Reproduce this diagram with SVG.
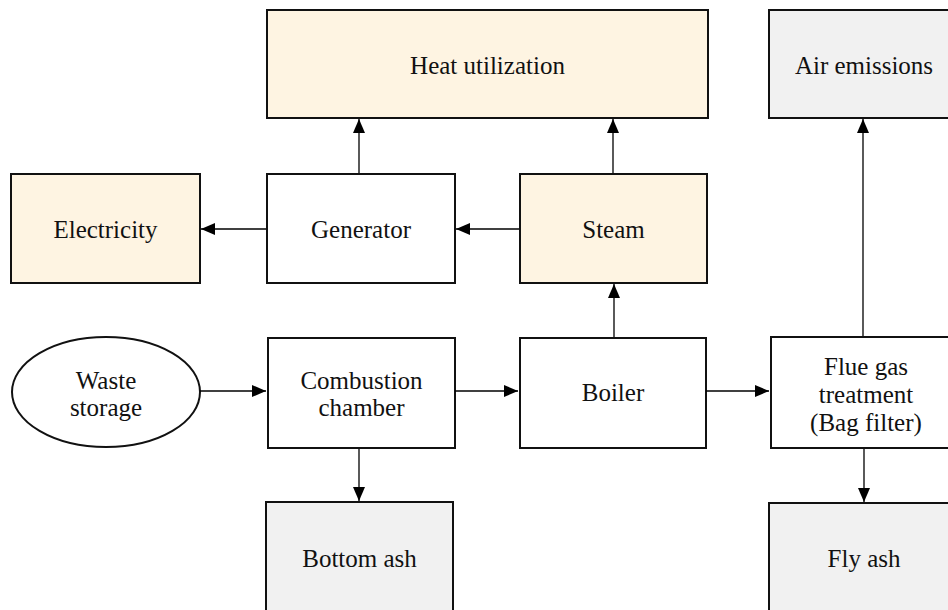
<svg xmlns="http://www.w3.org/2000/svg" width="948" height="610" viewBox="0 0 948 610">
<defs>
<marker id="ah" viewBox="0 0 14 12" refX="14" refY="6" markerWidth="14" markerHeight="12" markerUnits="userSpaceOnUse" orient="auto">
<path d="M0,0 L14,6 L0,12 Z" fill="#000"/>
</marker>
<style>
.box{stroke:#111;stroke-width:2}
.w{fill:#fff}
.b{fill:#FEF4E2}
.g{fill:#F1F1F1}
text{font-family:"Liberation Serif","Times New Roman",serif;font-size:25px;fill:#111;text-anchor:middle}
.c{stroke:#000;stroke-width:1.3;fill:none;marker-end:url(#ah)}
</style>
</defs>
<rect width="948" height="610" fill="#fff"/>
<g id="heat"><rect class="box b" x="267" y="10" width="441" height="108"/><text x="487.5" y="74">Heat utilization</text></g>
<g id="air"><rect class="box g" x="769" y="10" width="192" height="108"/><text x="864" y="74">Air emissions</text></g>
<g id="electricity"><rect class="box b" x="11" y="174" width="189" height="109"/><text x="105.5" y="238">Electricity</text></g>
<g id="generator"><rect class="box w" x="267" y="174" width="188" height="109"/><text x="361" y="238">Generator</text></g>
<g id="steam"><rect class="box b" x="520" y="174" width="187" height="109"/><text x="613.5" y="238">Steam</text></g>
<g id="waste"><ellipse class="box w" cx="106" cy="392" rx="94" ry="55"/><text x="106" y="389">Waste</text><text x="106" y="416">storage</text></g>
<g id="combustion"><rect class="box w" x="268" y="338" width="187" height="110"/><text x="361.5" y="389">Combustion</text><text x="361.5" y="416">chamber</text></g>
<g id="boiler"><rect class="box w" x="520" y="338" width="186" height="110"/><text x="613" y="401">Boiler</text></g>
<g id="flue"><rect class="box w" x="771" y="337" width="190" height="111"/><text x="866" y="375">Flue gas</text><text x="866" y="403">treatment</text><text x="866" y="431">(Bag filter)</text></g>
<g id="bottomash"><rect class="box g" x="266" y="502" width="187" height="120"/><text x="359.5" y="567">Bottom ash</text></g>
<g id="flyash"><rect class="box g" x="769" y="503" width="192" height="120"/><text x="864" y="567">Fly ash</text></g>
<g id="connectors">
<line class="c" x1="359" y1="173" x2="359" y2="119"/>
<line class="c" x1="613" y1="173" x2="613" y2="119"/>
<line class="c" x1="266" y1="229" x2="201" y2="229"/>
<line class="c" x1="519" y1="229" x2="456" y2="229"/>
<line class="c" x1="614" y1="337" x2="614" y2="284"/>
<line class="c" x1="863" y1="336" x2="863" y2="119"/>
<line class="c" x1="200" y1="391" x2="266" y2="391"/>
<line class="c" x1="455" y1="391" x2="518" y2="391"/>
<line class="c" x1="706" y1="391" x2="769" y2="391"/>
<line class="c" x1="359" y1="449" x2="359" y2="501"/>
<line class="c" x1="864" y1="449" x2="864" y2="502"/>
</g>
</svg>
